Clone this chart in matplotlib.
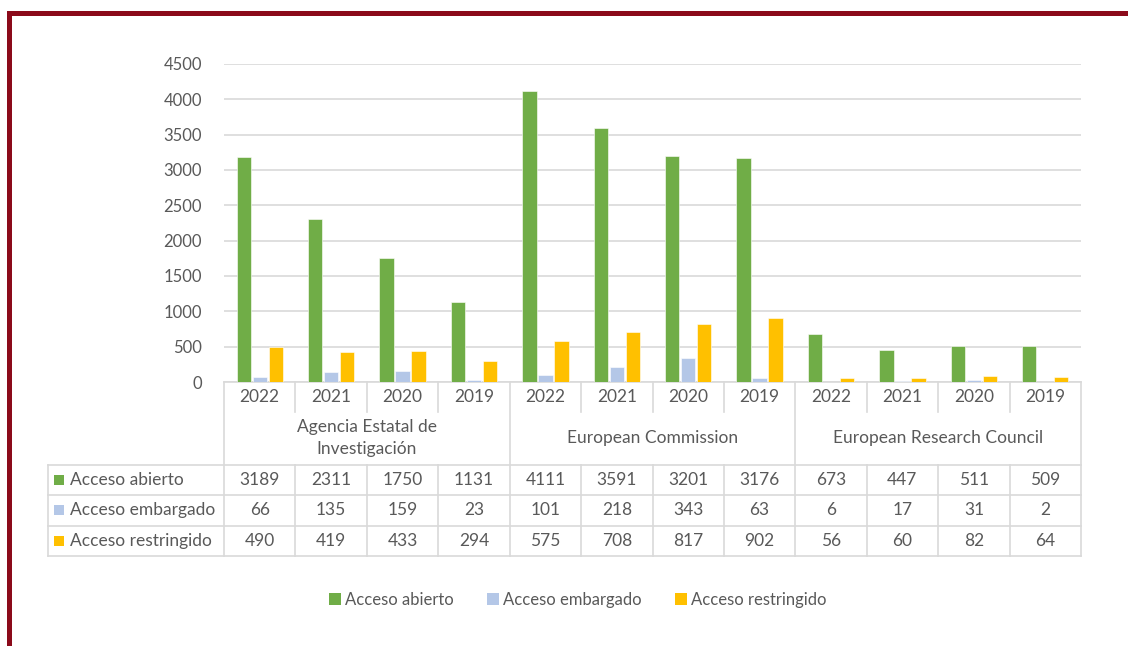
import numpy as np
import matplotlib.pyplot as plt
from matplotlib.patches import Rectangle
from matplotlib.lines import Line2D
from matplotlib.transforms import blended_transform_factory

plt.rcParams['font.family'] = ['Lato', 'DejaVu Sans']

# data
funders = ['Agencia Estatal de\nInvestigación', 'European Commission', 'European Research Council']
years = ['2022', '2021', '2020', '2019']
series = ['Acceso abierto', 'Acceso embargado', 'Acceso restringido']
abierto = [3189, 2311, 1750, 1131, 4111, 3591, 3201, 3176, 673, 447, 511, 509]
embargado = [66, 135, 159, 23, 101, 218, 343, 63, 6, 17, 31, 2]
restringido = [490, 419, 433, 294, 575, 708, 817, 902, 56, 60, 82, 64]
colors = ['#70AD47', '#B4C7E7', '#FFC000']
values = [abierto, embargado, restringido]

W, H = 1128, 646
fig = plt.figure(figsize=(W / 100, H / 100), dpi=100)
txt = '#595959'
grid = '#D9D9D9'
fs = 12.5

def fy(y):
    return 1 - y / H

def fx(x):
    return x / W

ax = fig.add_axes([fx(224), fy(382), fx(1081) - fx(224), fy(64) - fy(382)])
n = len(abierto)
x = np.arange(n)
bw = 0.2
for k, (vals, c) in enumerate(zip(values, colors)):
    ax.bar(x + (k - 1) * 0.224, vals, bw, color=c, edgecolor='white', linewidth=0.4, zorder=3)

ax.set_xlim(-0.5, n - 0.5)
ax.set_ylim(0, 4500)
ax.set_yticks(np.arange(0, 4501, 500))
ax.tick_params(axis='y', length=0, labelsize=12, labelcolor=txt, pad=16)
ax.set_xticks([])
ax.grid(axis='y', color=grid, linewidth=1.2, zorder=0)
for s in ['top', 'right', 'left']:
    ax.spines[s].set_visible(False)
ax.spines['bottom'].set_color(grid)
ax.spines['bottom'].set_linewidth(1.2)

# table below the axis
tr = blended_transform_factory(ax.transData, fig.transFigure)
lw = 1.2
def vline(xd, y0, y1):
    fig.add_artist(Line2D([xd, xd], [fy(y0), fy(y1)], transform=tr, color=grid, lw=lw))

def hline(y, x0=48):
    fig.add_artist(Line2D([fx(x0), fx(1081)], [fy(y), fy(y)], transform=fig.transFigure, color=grid, lw=lw))

for i in range(n + 1):
    b = i - 0.5
    if i % 4 == 0:
        vline(b, 382, 556)
    else:
        vline(b, 382, 412)
        vline(b, 465, 556)
for y in [465, 495, 526, 556]:
    hline(y)
fig.add_artist(Line2D([fx(48), fx(48)], [fy(465), fy(556)], transform=fig.transFigure, color=grid, lw=lw))

for i in range(n):
    fig.text(i, fy(397), years[i % 4], transform=tr, ha='center', va='center', fontsize=fs, color=txt)
for g, name in enumerate(funders):
    fig.text(g * 4 + 1.5, fy(438), name, transform=tr, ha='center', va='center', fontsize=fs,
             color=txt, linespacing=1.4)

rows_y = [480, 510, 541]
for r, (lab, vals, c) in enumerate(zip(series, values, colors)):
    yc = rows_y[r]
    fig.add_artist(Rectangle((fx(54), fy(yc + 5)), fx(10), 10 / H, transform=fig.transFigure,
                             facecolor=c, edgecolor='none'))
    fig.text(fx(70), fy(yc), lab, ha='left', va='center', fontsize=fs, color=txt)
    for i, v in enumerate(vals):
        fig.text(i, fy(yc), str(v), transform=tr, ha='center', va='center', fontsize=fs, color=txt)

# legend
handles = [Rectangle((0, 0), 1, 1, facecolor=c, edgecolor='none') for c in colors]
fig.legend(handles, series, loc='center', bbox_to_anchor=(fx(578), fy(600)), ncol=3, frameon=False,
           fontsize=12, labelcolor=txt, handlelength=0.7, handleheight=0.7, handletextpad=0.25,
           columnspacing=2.0)

# dark red frame
frame = '#8B0A1A'
fig.add_artist(Rectangle((fx(7), fy(16)), 1, 5 / H, transform=fig.transFigure, facecolor=frame, edgecolor='none'))
fig.add_artist(Rectangle((fx(7), 0), 5 / W, fy(11), transform=fig.transFigure, facecolor=frame, edgecolor='none'))

fig.savefig('out.png', dpi=100)
